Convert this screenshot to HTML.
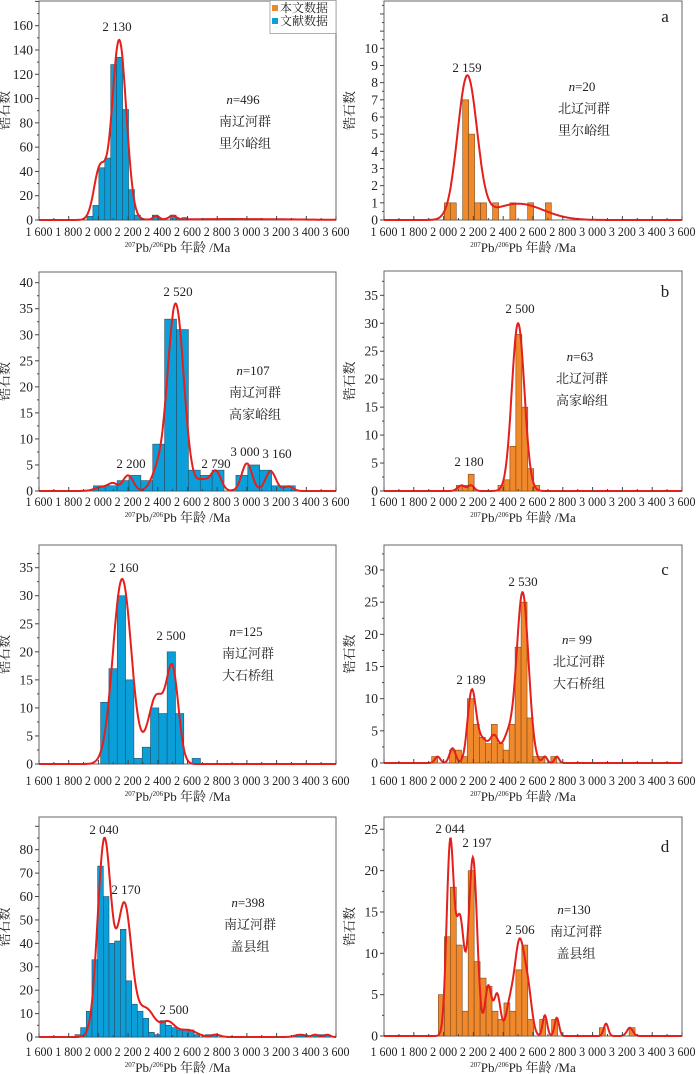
<!DOCTYPE html>
<html><head><meta charset="utf-8">
<style>
html,body{margin:0;padding:0;background:#fff;}
svg{display:block;}
text{font-family:"Liberation Serif","Noto Serif CJK SC",serif;fill:#222;}
.cjk{font-family:"Liberation Serif","Noto Serif CJK SC","Noto Sans CJK SC",serif;}
</style></head>
<body>
<svg id="fig" width="700" height="1074" viewBox="0 0 700 1074" xmlns="http://www.w3.org/2000/svg"></svg>
<script>
// ---- data ----
const xTicks = [1600,1800,2000,2200,2400,2600,2800,3000,3200,3400,3600];
const xTickLabels = ["1 600","1 800","2 000","2 200","2 400","2 600","2 800","3 000","3 200","3 400","3 600"];

const p1Starts = [1923]; const p1Width = 40;
const p1Counts = [3,12,43,51,128,134,91,25,4,1,0,4,1,0,4,1,2];
const p1Peaks = [[2010,42,40],[2140,148,48],[2390,3,20],[2500,3,25],[2900,0.8,400]];
const p1YTicks = [0,20,40,60,80,100,120,140,160];

const aStarts = [2005,2045,2128,2168,2208,2248,2329,2445,2564,2683]; const aWidth = 40;
const aCounts = [1,1,7,5,1,1,1,1,1,1];
const aPeaks = [[2159,8.3,65],[2500,0.95,170]];
const aYTicks = [0,1,2,3,4,5,6,7,8,9,10];

const p2Starts = [1966]; const p2Width = 80;
const p2Counts = [1,1,2,3,2,9,33,31,4,3,4,0,3,5,4,1,1];
const p2Peaks = [[2030,0.8,50],[2100,1.2,30],[2200,3,35],[2390,3,40],[2520,36,55],[2700,2,40],[2790,3.8,35],[3000,5.3,35],[3160,3.8,35],[3280,0.9,30]];
const p2YTicks = [0,5,10,15,20,25,30,35,40];

const bStarts = [2085,2125,2165,2365,2405,2445,2485,2525,2565,2605]; const bWidth = 40;
const bCounts = [1,1,3,1,2,8,28,15,4,1];
const bPeaks = [[2120,1,25],[2185,1,20],[2500,30,42]];
const bYTicks = [0,5,10,15,20,25,30,35];

const p3Starts = [2015]; const p3Width = 56;
const p3Counts = [11,17,30,15,1,3,10,9,20,9,0,1];
const p3Peaks = [[2160,33,62],[2390,12,55],[2500,16,40]];
const p3YTicks = [0,5,10,15,20,25,30,35];

const cStarts = [1920]; const cWidth = 40;
const cCounts = [1,0,0,2,2,1,10,6,4,3,6,3,2,6,18,25,7,1,1,0,1];
const cPeaks = [[1960,1,18],[2060,2.3,20],[2189,11,28],[2260,3.5,35],[2340,4,30],[2430,4,35],[2530,26.5,40],[2680,1,15],[2760,1,15]];
const cYTicks = [0,5,10,15,20,25,30];

const p4Starts = [1842]; const p4Width = 38.2;
const p4Counts = [1,4,11,33,73,60,40,41,46,24,14,11,8,2,1,7,5,4,3,3,3,1,0,1,1,0,0,0,0,0,0,0,0,0,0,0,0,0,0,1,1,0,1,1,1];
const p4Peaks = [[2040,84,45],[2175,56,48],[2320,12,60],[2470,6,45],[2600,3,60],[2790,1,30],[3360,1,35],[3460,1,20],[3540,1,20]];
const p4YTicks = [0,10,20,30,40,50,60,70,80];

const dStarts = [1965]; const dWidth = 40;
const dCounts = [5,12,18,11,3,20,9,7,6,3,2,4,3,8,11,2,0,2,0,2,0,0,0,0,0,0,0,1,0,0,0,0,1];
const dPeaks = [[2044,23,24],[2110,14,28],[2197,21.5,28],[2300,6,22],[2360,5,22],[2440,3,25],[2510,11.5,35],[2570,4,25],[2680,2.5,15],[2760,2.2,15],[3090,1.5,15],[3250,1,20]];
const dYTicks = [0,5,10,15,20,25];

// ---- layout ----
const NS = "http://www.w3.org/2000/svg";
const svg = document.getElementById('fig');
function mk(tag, attrs, parent){
  const e = document.createElementNS(NS, tag);
  for (const k in attrs) e.setAttribute(k, attrs[k]);
  (parent||svg).appendChild(e);
  return e;
}
function txt(x,y,s,opts,parent){
  const t = mk('text', Object.assign({x:x,y:y,'font-size':13}, opts||{}), parent);
  t.textContent = s;
  return t;
}

const panels = [
 {id:'p1',L:39,R:336,top:1,bot:220,tv:160,ty:25.7,starts:p1Starts,w:p1Width,counts:p1Counts,peaks:p1Peaks,yt:p1YTicks,blue:true,lab:236},
 {id:'a',L:384,R:682,top:1,bot:220,tv:10,ty:48.3,starts:aStarts,w:aWidth,counts:aCounts,peaks:aPeaks,yt:aYTicks,blue:false,lab:236},
 {id:'p2',L:39,R:336,top:272,bot:491,tv:40,ty:282.7,starts:p2Starts,w:p2Width,counts:p2Counts,peaks:p2Peaks,yt:p2YTicks,blue:true,lab:506},
 {id:'b',L:384,R:682,top:271,bot:491,tv:35,ty:295.3,starts:bStarts,w:bWidth,counts:bCounts,peaks:bPeaks,yt:bYTicks,blue:false,lab:506},
 {id:'p3',L:39,R:336,top:545,bot:764,tv:35,ty:567.7,starts:p3Starts,w:p3Width,counts:p3Counts,peaks:p3Peaks,yt:p3YTicks,blue:true,lab:785},
 {id:'c',L:384,R:682,top:545,bot:763,tv:30,ty:570,starts:cStarts,w:cWidth,counts:cCounts,peaks:cPeaks,yt:cYTicks,blue:false,lab:785},
 {id:'p4',L:39,R:336,top:817,bot:1037,tv:80,ty:849.7,starts:p4Starts,w:p4Width,counts:p4Counts,peaks:p4Peaks,yt:p4YTicks,blue:true,lab:1056},
 {id:'d',L:384,R:682,top:817,bot:1036,tv:25,ty:829.3,starts:dStarts,w:dWidth,counts:dCounts,peaks:dPeaks,yt:dYTicks,blue:false,lab:1056}
];

panels.forEach(p=>{
  const g = mk('g',{});
  
  
  const xs = v => p.L + (v-1600)/2000*(p.R-p.L);
  const ys = v => p.bot - v*(p.bot-p.ty)/p.tv;
  const fr = mk('rect',{x:p.L,y:p.top,width:p.R-p.L,height:p.bot-p.top,fill:'none',stroke:'#666','stroke-width':1},g);
  
  
  const fill = p.blue ? '#0b9fd9' : '#f0892b';
  const edge = p.blue ? '#2a4f66' : '#7a4a1c';
  p.counts.forEach((c,i)=>{
    if (c<=0) return;
    const s = p.starts.length>1 ? p.starts[i] : p.starts[0] + i*p.w;
    const b = mk('rect',{x:xs(s),y:ys(c),width:xs(s+p.w)-xs(s),height:ys(0)-ys(c),fill:fill,stroke:edge,'stroke-width':0.6},g);
    
    
  });
  let d='';
  for (let v=1600; v<=3600; v+=4){
    let s=0;
    p.peaks.forEach(k=>{ s += k[1]*Math.exp(-0.5*Math.pow((v-k[0])/k[2],2)); });
    d += (v===1600?'M':'L') + xs(v).toFixed(1)+','+ys(s).toFixed(1);
  }
  const cv = mk('path',{d:d,fill:'none',stroke:'#e41f1c','stroke-width':2},g);
  
  
  for (let v=1600; v<=3600; v+=100){
    const len = v%200===0 ? 4 : 2;
    mk('line',{x1:xs(v),x2:xs(v),y1:p.bot,y2:p.bot-len,stroke:'#444','stroke-width':1},g);
  }
  xTicks.forEach((v,i)=>{
    const t = txt(xs(v)-13.5, p.lab, xTickLabels[i], {'font-size':13,textLength:27,lengthAdjust:'spacingAndGlyphs'}, g);
    
    
  });
  const step = p.yt[1]-p.yt[0];
  for (let v=0; ys(v)>=p.top-0.5; v+=step/2){
    const major = Math.abs(v/step-Math.round(v/step))<1e-6;
    mk('line',{x1:p.L-(major?4:2),x2:p.L,y1:ys(v),y2:ys(v),stroke:'#444','stroke-width':1},g);
  }
  p.yt.forEach(v=>{
    const t = txt(p.L-6, ys(v)+4.5, String(v), {'text-anchor':'end','font-size':13.5}, g);
    
    
  });
  const cx = (p.L+p.R)/2;
  const xt = mk('text',{x:cx-10,y:p.lab+16,'text-anchor':'middle','font-size':13,'class':'cjk'},g);
  
  
  xt.innerHTML = '<tspan font-size="7" dy="-5">207</tspan><tspan dy="5">Pb/</tspan><tspan font-size="7" dy="-5">206</tspan><tspan dy="5">Pb 年龄 /Ma</tspan>';
  const cy = (p.top+p.bot)/2;
  const yx = p.L-30;
  const yt = mk('text',{x:yx,y:cy,'text-anchor':'middle','font-size':13,'class':'cjk',transform:'rotate(-90 '+yx+' '+cy+')'},g);
  
  
  yt.textContent = '锆石数';
});

const notes = [
 [117,31,'2 130'],[467,72,'2 159'],
 [178,296,'2 520'],[131,468,'2 200'],[216,468,'2 790'],[245,456,'3 000'],[277,458,'3 160'],
 [520,313,'2 500'],[469,466,'2 180'],
 [124,572,'2 160'],[171,640,'2 500'],
 [523,586,'2 530'],[471,684,'2 189'],
 [104,834,'2 040'],[126,894,'2 170'],[174,1014,'2 500'],
 [450,833,'2 044'],[477,847,'2 197'],[520,934,'2 506']
];
notes.forEach(n=>{
  const t = txt(n[0],n[1],n[2],{'text-anchor':'middle','font-size':13});
  
  
});
const letters = [[665,22,'a'],[665,297,'b'],[665,575,'c'],[665,852,'d']];
letters.forEach(n=>{
  const t = txt(n[0],n[1],n[2],{'text-anchor':'middle','font-size':17});
  
  
});
const info = [
 [243,104,'496','南辽河群','里尔峪组'],
 [582,91,'20','北辽河群','里尔峪组'],
 [253,375,'107','南辽河群','高家峪组'],
 [580,361,'63','北辽河群','高家峪组'],
 [246,636,'125','南辽河群','大石桥组'],
 [577,644,' 99','北辽河群','大石桥组'],
 [248,907,'398','南辽河群','盖县组'],
 [574,914,'130','南辽河群','盖县组']
];
info.forEach(n=>{
  const t = mk('text',{x:n[0],y:n[1],'text-anchor':'middle','font-size':13});
  
  
  t.innerHTML = '<tspan font-style="italic">n</tspan>='+n[2];
  const t2 = txt(n[0]+2,n[1]+22,n[3],{'text-anchor':'middle','font-size':13,'class':'cjk'});
  
  
  const t3 = txt(n[0]+2,n[1]+44,n[4],{'text-anchor':'middle','font-size':13,'class':'cjk'});
  
  
});

const lg = mk('g',{});


mk('rect',{x:270,y:0.5,width:66,height:33,fill:'#fff',stroke:'#999','stroke-width':0.8},lg);
mk('rect',{x:272,y:5,width:6,height:6,fill:'#f0892b'},lg);
mk('rect',{x:272,y:18,width:6,height:6,fill:'#0b9fd9'},lg);
const l1 = txt(280,12,'本文数据',{'font-size':12,'class':'cjk'},lg);


const l2 = txt(280,25,'文献数据',{'font-size':12,'class':'cjk'},lg);


</script>
</body></html>
